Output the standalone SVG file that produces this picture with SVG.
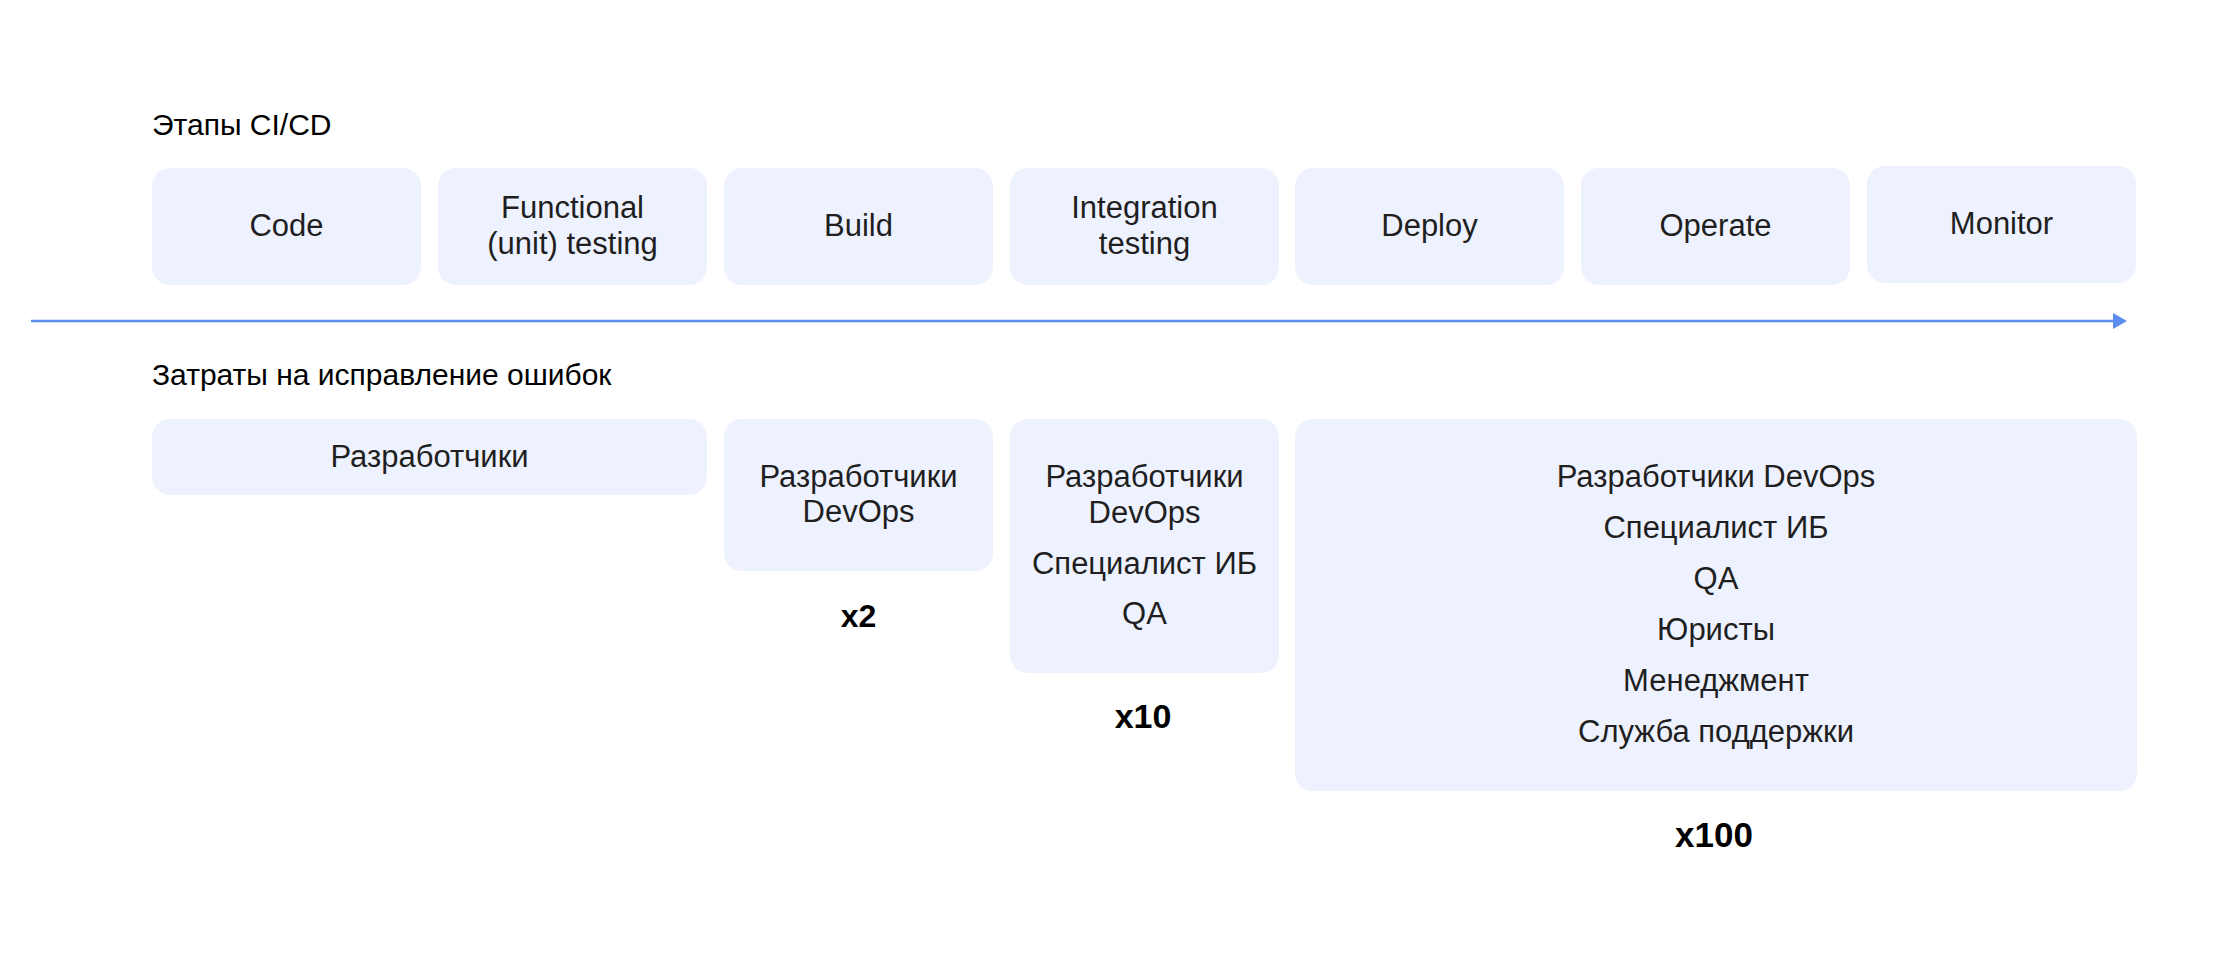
<svg xmlns="http://www.w3.org/2000/svg" width="2240" height="960" viewBox="0 0 2240 960">
  <style>
    .box { fill: #EEF2FE; }
    .t { font-family: "Liberation Sans", Arial, sans-serif; font-size: 31px; fill: #1f1f1f; text-anchor: middle; }
    .h { font-family: "Liberation Sans", Arial, sans-serif; font-size: 30px; fill: #000000; }
    .m { font-family: "Liberation Sans", Arial, sans-serif; font-weight: bold; fill: #000000; text-anchor: middle; }
    .conn { stroke: #5B8CEE; stroke-width: 2.5; fill: none; }
  </style>
  <defs>
    <marker id="ah" markerWidth="14" markerHeight="16" refX="0" refY="8" orient="auto" markerUnits="userSpaceOnUse">
      <polygon points="0,0 14,8 0,16" fill="#5B8CEE"/>
    </marker>
  </defs>
  <rect width="2240" height="960" fill="#ffffff"/>

  <text class="h" x="152" y="135">Этапы CI/CD</text>
  <text class="h" x="152" y="385" font-size="31">Затраты на исправление ошибок</text>

  <g id="connectors">
    <line class="conn" x1="31" y1="321" x2="2113" y2="321" marker-end="url(#ah)"/>
  </g>

  <g id="code">
    <rect class="box" x="152" y="168" width="269" height="117" rx="18"/>
    <text class="t" x="286.5" y="236">Code</text>
  </g>
  <g id="functional">
    <rect class="box" x="438" y="168" width="269" height="117" rx="18"/>
    <text class="t" x="572.5" y="218">Functional</text>
    <text class="t" x="572.5" y="254">(unit) testing</text>
  </g>
  <g id="build">
    <rect class="box" x="724" y="168" width="269" height="117" rx="18"/>
    <text class="t" x="858.5" y="236">Build</text>
  </g>
  <g id="integration">
    <rect class="box" x="1010" y="168" width="269" height="117" rx="18"/>
    <text class="t" x="1144.5" y="218">Integration</text>
    <text class="t" x="1144.5" y="254">testing</text>
  </g>
  <g id="deploy">
    <rect class="box" x="1295" y="168" width="269" height="117" rx="18"/>
    <text class="t" x="1429.5" y="236">Deploy</text>
  </g>
  <g id="operate">
    <rect class="box" x="1581" y="168" width="269" height="117" rx="18"/>
    <text class="t" x="1715.5" y="236">Operate</text>
  </g>
  <g id="monitor">
    <rect class="box" x="1867" y="166" width="269" height="117" rx="18"/>
    <text class="t" x="2001.5" y="234">Monitor</text>
  </g>

  <g id="cost1">
    <rect class="box" x="152" y="419" width="555" height="76" rx="18"/>
    <text class="t" x="429.5" y="467">Разработчики</text>
  </g>
  <g id="cost2">
    <rect class="box" x="724" y="419" width="269" height="152" rx="18"/>
    <text class="t" x="858.5" y="487">Разработчики</text>
    <text class="t" x="858.5" y="522">DevOps</text>
    <text class="m" x="858.5" y="627" font-size="32">x2</text>
  </g>
  <g id="cost3">
    <rect class="box" x="1010" y="419" width="269" height="254" rx="18"/>
    <text class="t" x="1144.5" y="487">Разработчики</text>
    <text class="t" x="1144.5" y="523">DevOps</text>
    <text class="t" x="1144.5" y="574">Специалист ИБ</text>
    <text class="t" x="1144.5" y="624">QA</text>
    <text class="m" x="1143" y="728" font-size="34">x10</text>
  </g>
  <g id="cost4">
    <rect class="box" x="1295" y="419" width="842" height="372" rx="18"/>
    <text class="t" x="1716" y="487">Разработчики DevOps</text>
    <text class="t" x="1716" y="538">Специалист ИБ</text>
    <text class="t" x="1716" y="589">QA</text>
    <text class="t" x="1716" y="640">Юристы</text>
    <text class="t" x="1716" y="691">Менеджмент</text>
    <text class="t" x="1716" y="742">Служба поддержки</text>
    <text class="m" x="1714" y="847" font-size="35">x100</text>
  </g>
</svg>
